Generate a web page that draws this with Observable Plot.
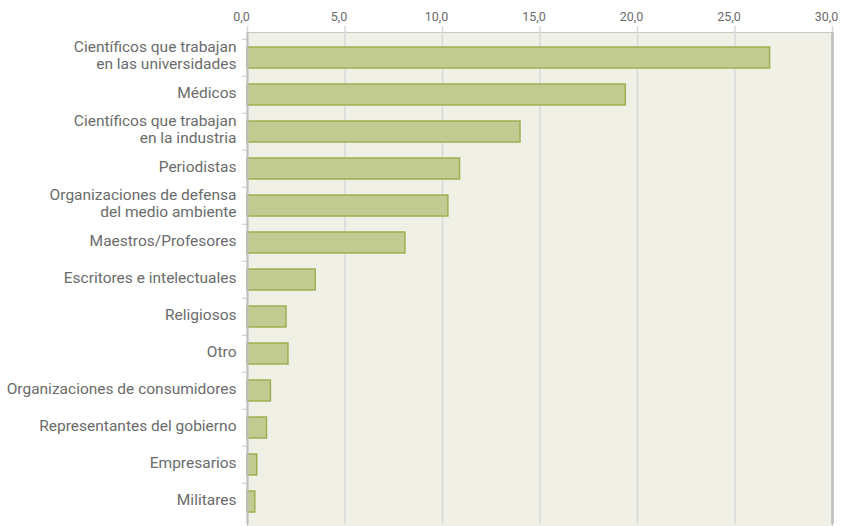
<!DOCTYPE html>
<html><head><meta charset="utf-8">
<script src="https://cdn.jsdelivr.net/npm/d3@7"></script>
<script src="https://cdn.jsdelivr.net/npm/@observablehq/plot@0.6"></script>
<style>html,body{margin:0;padding:0;background:#fff;overflow:hidden}</style>
</head><body><div id="chart"></div>
<script>
const categories = [
  "Científicos que trabajan\nen las universidades",
  "Médicos",
  "Científicos que trabajan\nen la industria",
  "Periodistas",
  "Organizaciones de defensa\ndel medio ambiente",
  "Maestros/Profesores",
  "Escritores e intelectuales",
  "Religiosos",
  "Otro",
  "Organizaciones de consumidores",
  "Representantes del gobierno",
  "Empresarios",
  "Militares"
];
const values = [26.8, 19.4, 14.0, 10.9, 10.3, 8.1, 3.5, 2.0, 2.1, 1.2, 1.0, 0.5, 0.4];
const xTicks = [0, 5, 10, 15, 20, 25, 30];

const data = categories.map((c, i) => ({category: c, value: values[i]}));
const fmt = d => d.toFixed(1).replace(".", ",");

const chart = Plot.plot({
  width: 841, height: 526,
  marginLeft: 247, marginRight: 9, marginTop: 36, marginBottom: 2,
  style: {fontFamily: "Roboto", background: "#fff", overflow: "visible"},
  x: {domain: [0, 30]},
  y: {domain: categories, paddingInner: 0.42, paddingOuter: 0.21},
  marks: [
    Plot.frame({fill: "#f0f0e7", stroke: "#c8c8c8", insetTop: -4, insetBottom: -10}),
    Plot.gridX(xTicks, {stroke: "#d8d8d8", strokeOpacity: 1, strokeWidth: 1.5, insetTop: -10}),
    Plot.barX(data, {x: "value", y: "category", fill: "#c1cb92", stroke: "#9db050", strokeWidth: 1.5}),
    Plot.ruleX([30], {stroke: "#bdbdbd", strokeWidth: 2.5, insetTop: -4}),
    Plot.ruleX([0], {stroke: "#bdbdbd", strokeWidth: 2, insetTop: -4}),
    Plot.axisX(xTicks, {anchor: "top", tickSize: 0, tickPadding: 16, dx: -6, tickFormat: fmt, fontSize: 12.5, fill: "#6b6b6b", label: null}),
    Plot.axisY({tickSize: 0, tickPadding: 11, dy: -2.5, fontSize: 15.5, fill: "#6b6b6b", label: null, lineHeight: 1.1}),
    Plot.axisY({tickSize: 5, stroke: "#c8c8c8", tickFormat: () => "", dy: -18.75, label: null})
  ]
});
document.getElementById("chart").appendChild(chart);
</script>
</body></html>
